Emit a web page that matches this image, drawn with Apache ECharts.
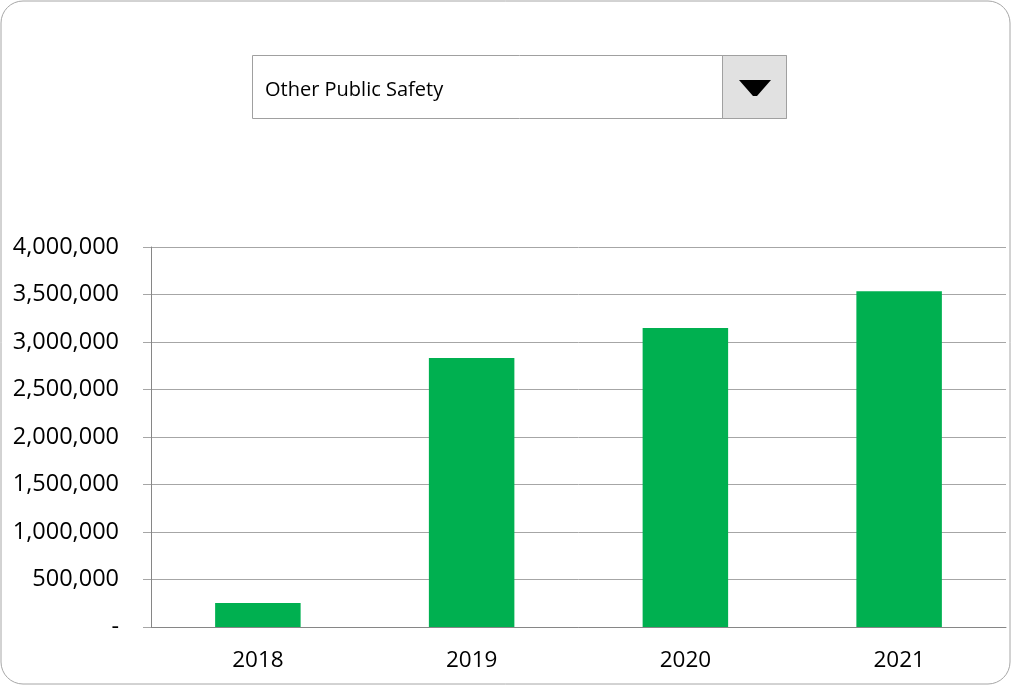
<!DOCTYPE html>
<html>
<head>
<meta charset="utf-8">
<script src="https://cdn.jsdelivr.net/npm/echarts@6/dist/echarts.min.js"></script>
<style>
  html, body { margin: 0; padding: 0; background: #fff; }
  #chart { width: 1012px; height: 686px; }
</style>
</head>
<body>
<div id="chart"></div>
<script>
// data
var years = ["2018", "2019", "2020", "2021"];
var spending = [252000, 2832000, 3147000, 3535000];
var selected = "Other Public Safety";

var font = "'Open Sans', 'Noto Sans', sans-serif";

function fmt(v) {
  if (v === 0) return "-";
  return v.toString().replace(/\B(?=(\d{3})+(?!\d))/g, ",");
}

var myChart = echarts.init(document.getElementById("chart"));
var option = {
  animation: false,
  grid: { left: 151, right: 6, top: 247, bottom: 59 },
  graphic: [
    {
      type: "rect", z: -1,
      shape: { x: 1, y: 1, width: 1009, height: 683, r: 22 },
      style: { fill: "#fff", stroke: "#a6a6a6", lineWidth: 1 }
    },
    {
      type: "rect",
      shape: { x: 252.5, y: 55.5, width: 534, height: 63 },
      style: { fill: "#fff", stroke: "#a0a0a0", lineWidth: 1 }
    },
    {
      type: "rect",
      shape: { x: 722.5, y: 55.5, width: 64, height: 63 },
      style: { fill: "#e1e1e1", stroke: "#a0a0a0", lineWidth: 1 }
    },
    {
      type: "polygon",
      shape: { points: [[739, 80], [771, 80], [757, 96], [753, 96]] },
      style: { fill: "#000" }
    },
    {
      type: "text", left: 265, top: 80,
      style: { text: selected, font: "20px " + font, fill: "#000" }
    }
  ],
  xAxis: {
    type: "category",
    data: years,
    axisLine: { lineStyle: { color: "#868686" } },
    axisTick: { length: 8, lineStyle: { color: "#868686" } },
    axisLabel: { color: "#000", fontSize: 22.5, fontFamily: font, margin: 22 }
  },
  yAxis: {
    type: "value",
    min: 0, max: 4000000, interval: 500000,
    axisLine: { show: true, lineStyle: { color: "#868686" } },
    axisTick: { show: true, length: 8, lineStyle: { color: "#a6a6a6" } },
    splitLine: { lineStyle: { color: "#a6a6a6" } },
    axisLabel: {
      color: "#000", fontSize: 23.5, fontFamily: font, margin: 32,
      formatter: fmt
    }
  },
  series: [
    {
      type: "bar",
      data: spending,
      barWidth: "40%",
      itemStyle: { color: "#00b050" }
    }
  ]
};
myChart.setOption(option);
</script>
</body>
</html>
